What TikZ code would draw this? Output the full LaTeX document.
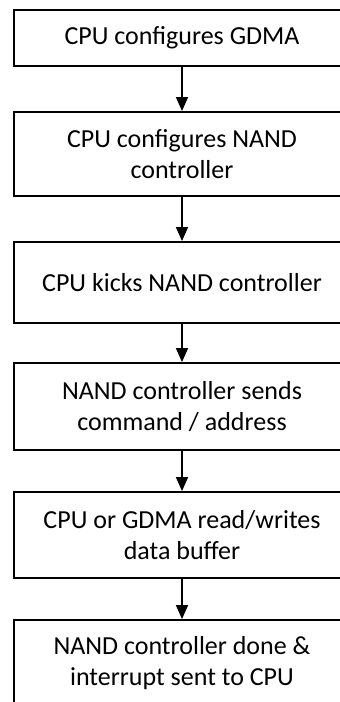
\documentclass[tikz,border=0pt]{standalone}
\usepackage{fontspec}
\setmainfont{Carlito}
\usetikzlibrary{arrows.meta}
\begin{document}
\begin{tikzpicture}[x=1pt,y=1pt,
  stepbox/.style={draw=black,line width=1.8pt,minimum width=336pt,align=center,
    inner sep=0pt,font=\fontsize{26}{31}\selectfont},
  flow/.style={line width=1.4pt,-{Triangle[length=14pt,width=12pt]}}]
\useasboundingbox (0,0) rectangle (340,-702);
\clip (0,0) rectangle (340,-702);
\fill[white] (0,0) rectangle (340,-702);
\node[stepbox,minimum height=56pt] (b1) at (182,-38) {CPU configures GDMA};
\node[stepbox,minimum height=84pt] (b2) at (182,-154) {CPU configures NAND\\controller};
\node[stepbox,minimum height=81pt] (b3) at (182,-282.5) {CPU kicks NAND controller};
\node[stepbox,minimum height=87pt] (b4) at (182,-406.5) {NAND controller sends\\command / address};
\node[stepbox,minimum height=86pt] (b5) at (182,-535) {CPU or GDMA read/writes\\data buffer};
\node[stepbox,minimum height=86pt] (b6) at (182,-663) {NAND controller done \&\\interrupt sent to CPU};
\draw[flow] (b1) -- (b2);
\draw[flow] (b2) -- (b3);
\draw[flow] (b3) -- (b4);
\draw[flow] (b4) -- (b5);
\draw[flow] (b5) -- (b6);
\end{tikzpicture}
\end{document}
